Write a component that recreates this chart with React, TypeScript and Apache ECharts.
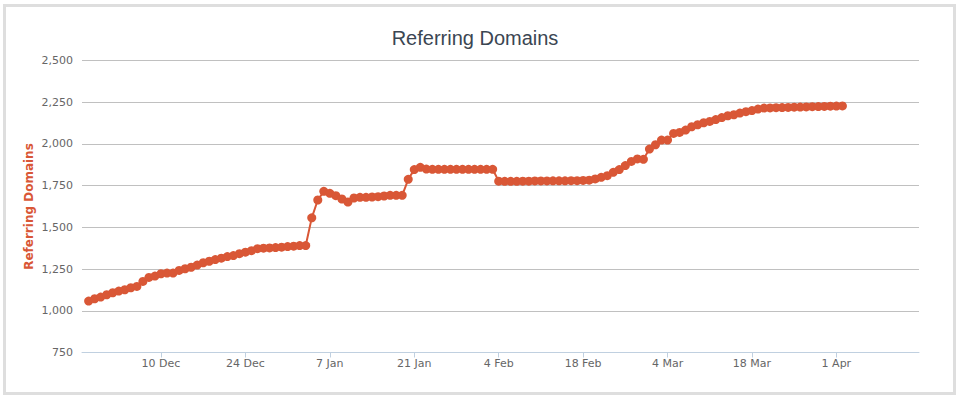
import React, { useEffect, useRef } from "react";
import * as echarts from "echarts";

const chartTitle = "Referring Domains";
const seriesName = "Referring Domains";
const startDate = "2014-11-28";
const referringDomains = [
  1058, 1072, 1082, 1096, 1108, 1118, 1126, 1138, 1146, 1176,
  1200, 1208, 1222, 1226, 1226, 1242, 1252, 1261, 1274, 1288,
  1297, 1307, 1315, 1325, 1331, 1342, 1351, 1360, 1372, 1375,
  1377, 1379, 1381, 1385, 1387, 1391, 1391, 1557, 1664, 1716,
  1704, 1690, 1670, 1652, 1676, 1680, 1680, 1682, 1684, 1688,
  1692, 1692, 1692, 1788, 1846, 1860, 1849, 1848, 1848, 1848,
  1848, 1848, 1848, 1848, 1848, 1848, 1848, 1848, 1777, 1776,
  1776, 1776, 1777, 1777, 1778, 1778, 1778, 1779, 1779, 1779,
  1780, 1780, 1781, 1783, 1790, 1800, 1810, 1830, 1846, 1870,
  1895, 1910, 1908, 1969, 1995, 2023, 2023, 2063, 2069, 2083,
  2103, 2115, 2127, 2135, 2146, 2158, 2169, 2175, 2185, 2193,
  2200, 2209, 2215, 2216, 2217, 2218, 2219, 2220, 2221, 2222,
  2223, 2224, 2225, 2226, 2227, 2228,
];
const tickDates = [
  "2014-12-10", "2014-12-24", "2015-01-07", "2015-01-21", "2015-02-04",
  "2015-02-18", "2015-03-04", "2015-03-18", "2015-04-01",
];
const monthNames = ["Jan", "Feb", "Mar", "Apr", "May", "Jun", "Jul", "Aug", "Sep", "Oct", "Nov", "Dec"];
const yMin = 750;
const yMax = 2500;
const yStep = 250;

const DAY = 86400000;
const startMs = Date.parse(startDate + "T00:00:00Z");
const dayIndex = (d: string) => Math.round((Date.parse(d + "T00:00:00Z") - startMs) / DAY);
const dayLabel = (v: number) => {
  const d = new Date(startMs + Math.round(v) * DAY);
  return `${d.getUTCDate()} ${monthNames[d.getUTCMonth()]}`;
};

export default function App() {
  const ref = useRef<HTMLDivElement>(null);
  useEffect(() => {
    if (!ref.current) return;
    const chart = echarts.init(ref.current, undefined, { renderer: "svg" });
    const tickVals = tickDates.map(dayIndex);
    const color = "#d95736";
    const labelFont = "'DejaVu Sans', Verdana, sans-serif";
    chart.setOption({
      animation: false,
      backgroundColor: "#ffffff",
      title: {
        text: chartTitle,
        left: 470,
        top: 23,
        textAlign: "center",
        textStyle: {
          color: "#3b4652",
          fontSize: 20,
          fontWeight: "normal",
          fontFamily: "'Liberation Sans', Arial, sans-serif",
        },
      },
      graphic: [
        {
          type: "rect",
          shape: { x: 4.5, y: 5.5, width: 950, height: 388 },
          style: { fill: "none", stroke: "#dedede", lineWidth: 3 },
          silent: true,
        },
      ],
      grid: { left: 82, right: 43, top: 60.5, bottom: 46.5 },
      xAxis: {
        type: "value",
        min: -1.1,
        max: 137.7,
        splitLine: { show: false },
        axisLine: { show: true, lineStyle: { color: "#c0d0e0", width: 1 } },
        axisTick: {
          show: true,
          customValues: tickVals,
          length: 5,
          lineStyle: { color: "#c0d0e0" },
        },
        axisLabel: {
          customValues: tickVals,
          formatter: (v: number) => dayLabel(v),
          color: "#666666",
          fontSize: 11,
          fontFamily: labelFont,
          margin: 5,
        },
        z: 5,
      },
      yAxis: {
        type: "value",
        min: yMin,
        max: yMax,
        interval: yStep,
        name: seriesName,
        nameLocation: "middle",
        nameRotate: 90,
        nameGap: 47,
        nameMoveOverlap: false,
        nameTextStyle: {
          color: color,
          fontSize: 12,
          fontWeight: "bold",
          fontFamily: labelFont,
        },
        axisLine: { show: false },
        axisTick: { show: false },
        splitLine: { lineStyle: { color: "#c0c0c0", width: 1 } },
        axisLabel: {
          color: "#666666",
          fontSize: 11,
          fontFamily: labelFont,
          margin: 9,
          formatter: (v: number) => v.toLocaleString("en-US"),
        },
      },
      series: [
        {
          name: seriesName,
          type: "line",
          data: referringDomains.map((v, i) => [i, v]),
          symbol: "circle",
          symbolSize: 9,
          showSymbol: true,
          lineStyle: { color, width: 2 },
          itemStyle: { color },
          z: 3,
        },
      ],
    });
    return () => chart.dispose();
  }, []);
  return (
    <div
      ref={ref}
      style={{ position: "fixed", left: 0, top: 0, width: 962, height: 399 }}
    />
  );
}
